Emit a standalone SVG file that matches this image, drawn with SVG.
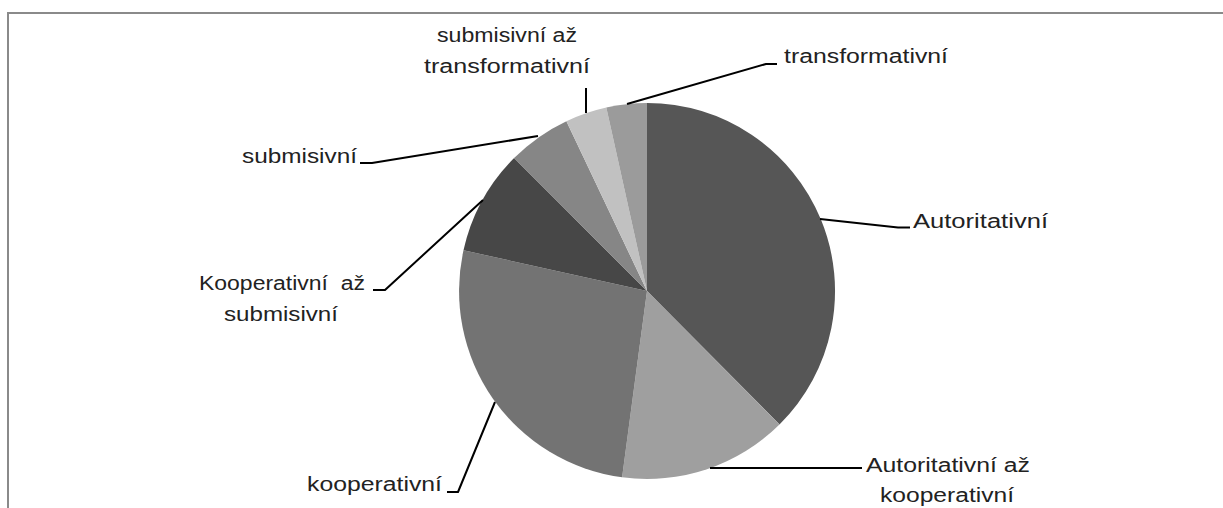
<svg xmlns="http://www.w3.org/2000/svg" width="1223" height="508" viewBox="0 0 1223 508">
  <style>
    .frame { fill: none; stroke: #8a8a8a; stroke-width: 2; }
    .lead { fill: none; stroke: #000; stroke-width: 2; stroke-linejoin: round; }
    .lbl { font-family: "Liberation Sans", Arial, sans-serif; font-size: 19.5px; fill: #222222; font-variant-ligatures: none; }
    .s1 { fill: #565656; }
    .s2 { fill: #9f9f9f; }
    .s3 { fill: #737373; }
    .s4 { fill: #474747; }
    .s5 { fill: #868686; }
    .s6 { fill: #c1c1c1; }
    .s7 { fill: #9b9b9b; }
  </style>

  <rect width="1223" height="508" fill="#ffffff"/>
  <!-- chart area border (top and left edges) -->
  <path class="frame" d="M8 508 V13 H1223"/>

  <!-- pie: centre (647,291), radius 188 -->
  <g id="slice-autoritativni">
    <path class="s1" d="M647 291 L647 103 A188 188 0 0 1 779.5 424.4 Z"/>
  </g>
  <g id="slice-autoritativni-az-kooperativni">
    <path class="s2" d="M647 291 L779.5 424.4 A188 188 0 0 1 622.1 477.3 Z"/>
  </g>
  <g id="slice-kooperativni">
    <path class="s3" d="M647 291 L622.1 477.3 A188 188 0 0 1 463.5 250.3 Z"/>
  </g>
  <g id="slice-kooperativni-az-submisivni">
    <path class="s4" d="M647 291 L463.5 250.3 A188 188 0 0 1 514.1 158.1 Z"/>
  </g>
  <g id="slice-submisivni">
    <path class="s5" d="M647 291 L514.1 158.1 A188 188 0 0 1 566.4 121.2 Z"/>
  </g>
  <g id="slice-submisivni-az-transformativni">
    <path class="s6" d="M647 291 L566.4 121.2 A188 188 0 0 1 606.3 107.5 Z"/>
  </g>
  <g id="slice-transformativni">
    <path class="s7" d="M647 291 L606.3 107.5 A188 188 0 0 1 647 103 Z"/>
  </g>

  <!-- leader lines -->
  <g id="leaders">
    <path class="lead" d="M627 104 L766 64 H777"/>
    <path class="lead" d="M586 88 V113"/>
    <path class="lead" d="M360 163 H372 L538 136"/>
    <path class="lead" d="M820 219 L898 227.5 H910"/>
    <path class="lead" d="M373 290 H385 L483 200"/>
    <path class="lead" d="M447 492 H458 L495 402"/>
    <path class="lead" d="M710 468 H862"/>
  </g>

  <!-- data labels -->
  <g id="label-transformativni">
    <text class="lbl" x="784" y="63" textLength="164" lengthAdjust="spacingAndGlyphs">transformativní</text>
  </g>
  <g id="label-submisivni-az-transformativni">
    <text class="lbl" x="437" y="42" textLength="140" lengthAdjust="spacingAndGlyphs">submisivní až</text>
    <text class="lbl" x="424" y="73" textLength="166" lengthAdjust="spacingAndGlyphs">transformativní</text>
  </g>
  <g id="label-submisivni">
    <text class="lbl" x="242" y="163" textLength="115" lengthAdjust="spacingAndGlyphs">submisivní</text>
  </g>
  <g id="label-autoritativni">
    <text class="lbl" x="913" y="228" textLength="135" lengthAdjust="spacingAndGlyphs">Autoritativní</text>
  </g>
  <g id="label-kooperativni-az-submisivni">
    <text class="lbl" x="199" y="290" textLength="166" lengthAdjust="spacingAndGlyphs" xml:space="preserve">Kooperativní  až</text>
    <text class="lbl" x="224" y="321" textLength="114" lengthAdjust="spacingAndGlyphs">submisivní</text>
  </g>
  <g id="label-kooperativni">
    <text class="lbl" x="307" y="491" textLength="135" lengthAdjust="spacingAndGlyphs">kooperativní</text>
  </g>
  <g id="label-autoritativni-az-kooperativni">
    <text class="lbl" x="866" y="472" textLength="164" lengthAdjust="spacingAndGlyphs">Autoritativní až</text>
    <text class="lbl" x="880" y="502" textLength="134" lengthAdjust="spacingAndGlyphs">kooperativní</text>
  </g>
</svg>
